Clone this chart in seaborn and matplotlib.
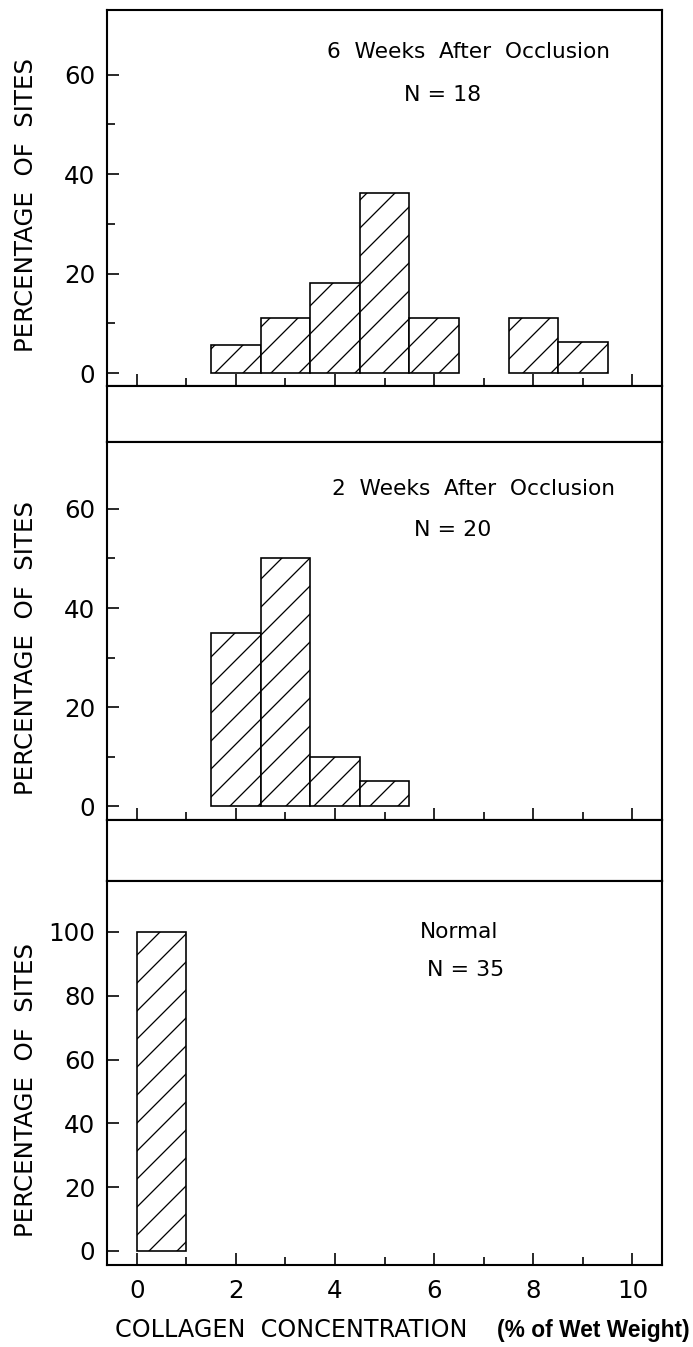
import matplotlib
matplotlib.use("Agg")
import matplotlib.pyplot as plt
from matplotlib.ticker import FixedLocator
import seaborn as sns

# percentage of sites per 1% collagen bin (bins centred on whole numbers)
six_week_centers = [2, 3, 4, 5, 6, 8, 9]
six_week_pct = [5.6, 11.1, 18.1, 36.2, 11.1, 11.1, 6.2]
six_week_edges = [1.5, 2.5, 3.5, 4.5, 5.5, 6.5, 7.5, 8.5, 9.5]

two_week_centers = [2, 3, 4, 5]
two_week_pct = [35, 50, 10, 5]
two_week_edges = [1.5, 2.5, 3.5, 4.5, 5.5]

normal_centers = [0.5]
normal_pct = [100]
normal_edges = [0, 1]

titles = ["6  Weeks  After  Occlusion", "2  Weeks  After  Occlusion", "Normal"]
n_labels = ["N = 18", "N = 20", "N = 35"]
x_major = [0, 2, 4, 6, 8, 10]
x_minor = [1, 3, 5, 7, 9]
x_tick_labels = ["0", "2", "4", "6", "8", "10"]
y_major_weeks = [0, 20, 40, 60]
y_minor_weeks = [10, 30, 50]
y_major_normal = [0, 20, 40, 60, 80, 100]

DPI = 84
sns.set_theme(style="white")
plt.rcParams["font.family"] = ["DejaVu Sans"]
plt.rcParams["hatch.linewidth"] = 1.1
plt.rcParams["hatch.color"] = "black"

fig = plt.figure(figsize=(693 / DPI, 1347 / DPI), dpi=DPI)

left, width = 0.1545, 0.8010
ax_top = fig.add_axes([left, 0.7134, width, 0.2791])
gap1 = fig.add_axes([left, 0.6719, width, 0.0416])
ax_mid = fig.add_axes([left, 0.3912, width, 0.2806])
gap2 = fig.add_axes([left, 0.3460, width, 0.0453])
ax_bot = fig.add_axes([left, 0.0609, width, 0.2851])

panels = [
    (ax_top, six_week_centers, six_week_pct, six_week_edges, (-2.6, 73),
     y_major_weeks, y_minor_weeks, (6.7, 64.6), (6.17, 56.0), 0.481),
    (ax_mid, two_week_centers, two_week_pct, two_week_edges, (-2.8, 73.5),
     y_major_weeks, y_minor_weeks, (6.8, 64.0), (6.38, 55.8), 0.455),
    (ax_bot, normal_centers, normal_pct, normal_edges, (-4.4, 116),
     y_major_normal, [], (6.5, 100), (6.64, 88), 0.456),
]

for i, (ax, centers, pct, edges, ylim, ymaj, ymin, tpos, npos, ylab_y) in enumerate(panels):
    sns.histplot(x=centers, weights=pct, bins=edges, ax=ax,
                 color="white", edgecolor="black", linewidth=1.4,
                 hatch="/", alpha=1)
    # empty bins would leave a flat line on the baseline
    for p in list(ax.patches):
        if p.get_height() == 0:
            p.remove()

    ax.set_xlim(-0.6, 10.6)
    ax.set_ylim(*ylim)
    ax.xaxis.set_major_locator(FixedLocator(x_major))
    ax.xaxis.set_minor_locator(FixedLocator(x_minor))
    ax.yaxis.set_major_locator(FixedLocator(ymaj))
    ax.yaxis.set_minor_locator(FixedLocator(ymin))
    ax.tick_params(which="major", direction="in", length=10, width=1.4,
                   colors="black", labelsize=21, pad=10)
    ax.tick_params(which="minor", direction="in", length=7, width=1.4,
                   colors="black")
    ax.tick_params(axis="x", which="both", bottom=True, pad=12)
    ax.tick_params(axis="y", which="both", left=True)

    if ax is ax_bot:
        ax.set_xticklabels(x_tick_labels)
    else:
        ax.set_xticklabels([])

    for s in ax.spines.values():
        s.set_visible(True)
        s.set_color("black")
        s.set_linewidth(1.8)

    ax.set_xlabel("")
    ax.set_ylabel("PERCENTAGE  OF  SITES", fontsize=21, color="black")
    ax.yaxis.set_label_coords(-0.125, ylab_y)

    ax.text(tpos[0], tpos[1], titles[i], ha="center", va="center",
            fontsize=18.5, color="black")
    ax.text(npos[0], npos[1], n_labels[i], ha="center", va="center",
            fontsize=19, color="black")

for g in (gap1, gap2):
    g.set_xticks([])
    g.set_yticks([])
    for s in g.spines.values():
        s.set_visible(True)
        s.set_color("black")
        s.set_linewidth(1.8)

fig.text(115 / 693, 1 - 1330 / 1347, "COLLAGEN  CONCENTRATION",
         ha="left", va="center", fontsize=20.5, color="black")
fig.text(497 / 693, 1 - 1330 / 1347, "(% of Wet Weight)",
         ha="left", va="center", fontsize=19.5, fontweight="bold",
         family="Liberation Sans", color="black")

fig.savefig("out.png", dpi=DPI, facecolor="white")
